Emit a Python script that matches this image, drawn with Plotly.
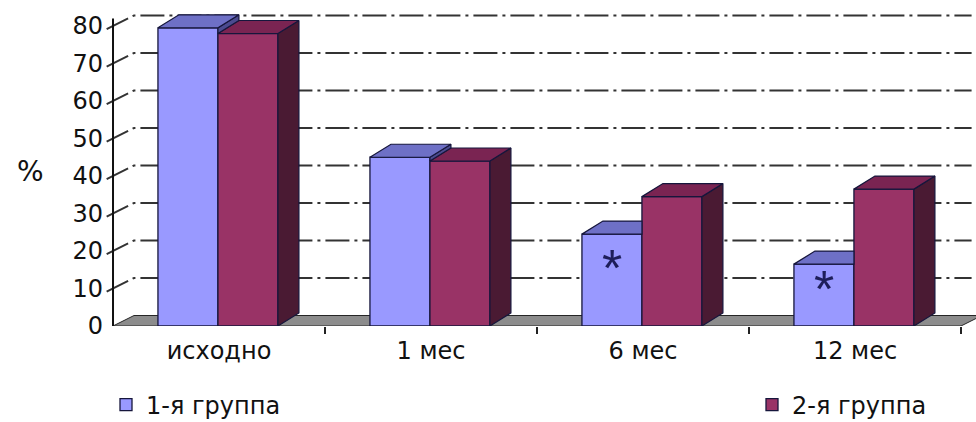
import plotly.graph_objects as go

# ---- data -------------------------------------------------------------
categories = ["исходно", "1 мес", "6 мес", "12 мес"]
group1 = [79.5, 45, 24.5, 16.5]
group2 = [78, 44, 34.5, 36.5]
series_names = ["1-я группа", "2-я группа"]
y_ticks = [0, 10, 20, 30, 40, 50, 60, 70, 80]
# significance marks drawn inside the group-1 bars (None = no mark)
asterisk_level = [None, None, 17.0, 11.5]

# ---- styling / geometry of the pseudo-3D columns -----------------------
FONT = "DejaVu Sans, Arial, sans-serif"
BLUE_FRONT, BLUE_TOP = "#9999FF", "#6E70C6"
RED_FRONT, RED_TOP, RED_SIDE = "#993366", "#7A2452", "#4A1A33"
EDGE = "#16163C"

BAR_W = 0.283           # width of one column (category units)
OFF1, OFF2 = -0.288, -0.005
DXB, DYB = 0.099, 3.47  # depth of a column (x units, % units)
DXW, DYW = 0.099, 2.8   # depth of floor / back wall
X_LEFT, X_RIGHT = -0.5, 3.5

fig = go.Figure()

# front faces
idx = list(range(len(categories)))
fig.add_trace(go.Bar(x=idx, y=group1, width=BAR_W, offset=OFF1, name=series_names[0],
                     marker=dict(color=BLUE_FRONT, line=dict(color=EDGE, width=1.3)),
                     legend="legend", hoverinfo="skip"))
fig.add_trace(go.Bar(x=idx, y=group2, width=BAR_W, offset=OFF2, name=series_names[1],
                     marker=dict(color=RED_FRONT, line=dict(color=EDGE, width=1.3)),
                     legend="legend2", hoverinfo="skip"))


def face(xs, ys, color):
    fig.add_trace(go.Scatter(x=xs + [xs[0]], y=ys + [ys[0]], mode="lines", fill="toself",
                             fillcolor=color, line=dict(color=EDGE, width=1.2),
                             showlegend=False, hoverinfo="skip"))


# top and side faces, painted back-to-front
for c, (v1, v2) in enumerate(zip(group1, group2)):
    x0 = c + OFF1
    x1 = x0 + BAR_W
    x2 = c + OFF2 + BAR_W
    red_side = ([x2, x2, x2 + DXB, x2 + DXB], [0, v2, v2 + DYB, DYB])
    red_top = ([x1, x2, x2 + DXB, x1 + DXB], [v2, v2, v2 + DYB, v2 + DYB])
    if v1 > v2:
        face(*red_side, RED_SIDE)
        face(*red_top, RED_TOP)
        face([x1, x1, x1 + DXB, x1 + DXB], [v2, v1, v1 + DYB, v2 + DYB], "#4B4B8F")
        face([x0, x1, x1 + DXB, x0 + DXB], [v1, v1, v1 + DYB, v1 + DYB], BLUE_TOP)
    else:
        face([x0, x1, x1, x0 + DXB], [v1, v1, v1 + DYB, v1 + DYB], BLUE_TOP)
        face(*red_side, RED_SIDE)
        face(*red_top, RED_TOP)

# floor and back-wall gridlines
shapes = [dict(type="path", xref="x", yref="y", layer="below",
               path=f"M {X_LEFT},0 L {X_RIGHT},0 L {X_RIGHT + DXW},{DYW} L {X_LEFT + DXW},{DYW} Z",
               fillcolor="#8C8C8C", line=dict(color="#262626", width=1))]
e = 0.03
for v in y_ticks[1:]:
    shapes.append(dict(type="path", xref="x", yref="y", layer="below",
                       path=(f"M {X_LEFT - e},{v - e * DYW / DXW} "
                             f"L {X_LEFT + DXW},{v + DYW} L {X_RIGHT + 0.05},{v + DYW}"),
                       line=dict(color="#333333", width=2, dash="24px,5px,3px,5px")))
# value axis line
shapes.append(dict(type="line", xref="x", yref="y", x0=X_LEFT, x1=X_LEFT, y0=0, y1=y_ticks[-1] + 2,
                   line=dict(color="#111111", width=2)))

annotations = [dict(text="%", xref="paper", yref="y", x=-74 / 872, xanchor="center", y=41.2,
                    showarrow=False, font=dict(family=FONT, size=28, color="#111111"))]
for c, lvl in enumerate(asterisk_level):
    if lvl is not None:
        annotations.append(dict(text="*", x=c + OFF1 + BAR_W / 2, y=lvl, yshift=-6,
                                showarrow=False, font=dict(family="Liberation Sans, Arial", size=52,
                                                           color="#1E1E5A")))

legend_style = dict(orientation="h", xref="container", yref="container", xanchor="left",
                    yanchor="middle", y=0.04, bgcolor="rgba(0,0,0,0)",
                    font=dict(family=FONT, size=24, color="#111111"))

fig.update_layout(
    width=976, height=422,
    margin=dict(l=104, r=0, t=0, b=96, autoexpand=False),
    paper_bgcolor="white", plot_bgcolor="white",
    barmode="overlay",
    shapes=shapes, annotations=annotations,
    font=dict(family=FONT, size=24, color="#111111"),
    xaxis=dict(range=[-0.5425, 3.5708], tickvals=idx, ticktext=categories, ticks="",
               showgrid=False, zeroline=False, showline=False, ticklabelstandoff=8,
               tickfont=dict(family=FONT, size=24, color="#111111"),
               minor=dict(tickvals=[0.5, 1.5, 2.5, 3.5], ticks="outside", ticklen=7,
                          tickcolor="#222222", tickwidth=1.5)),
    yaxis=dict(range=[0, 86.93], tickvals=y_ticks, ticks="", showgrid=False, zeroline=False,
               showline=False, tickfont=dict(family=FONT, size=24, color="#111111")),
    legend=dict(legend_style, x=106 / 976),
    legend2=dict(legend_style, x=752 / 976),
)

fig.write_html("out.html")
